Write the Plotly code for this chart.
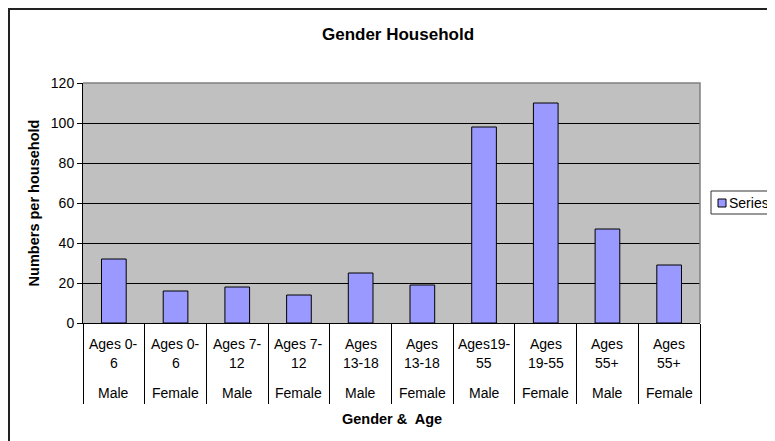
import plotly.graph_objects as go

# ---- data ----
age_line1 = ["Ages 0-", "Ages 0-", "Ages 7-", "Ages 7-", "Ages", "Ages", "Ages19-", "Ages", "Ages", "Ages"]
age_line2 = ["6", "6", "12", "12", "13-18", "13-18", "55", "19-55", "55+", "55+"]
genders = ["Male", "Female", "Male", "Female", "Male", "Female", "Male", "Female", "Male", "Female"]
values = [32, 16, 18, 14, 25, 19, 98, 110, 47, 29]
y_ticks = [0, 20, 40, 60, 80, 100, 120]

categories = [f"{a}{b} {g}" for a, b, g in zip(age_line1, age_line2, genders)]

FONT = "Arial, Liberation Sans, sans-serif"
OFF = 8  # page body margin in the browser
W, H = 775 - OFF, 441 - OFF
# plot area in window pixels: x 83..700, y 83..323
PL, PR, PT, PB = 83, 700, 83, 323
L, T = PL - OFF, PT - OFF
R = W - (PR - OFF)
B = H - (PB - OFF)
PW, PH = PR - PL, PB - PT


def px_x(px):
    return (px - PL) / PW


def px_y(py):
    return (PB - py) / PH


fig = go.Figure()
fig.add_trace(go.Bar(
    x=categories, y=values, name="Series1", width=0.4,
    marker=dict(color="#9999FF", line=dict(color="black", width=1)),
    showlegend=False,
))

annotations = []
for c, a, b, g in zip(categories, age_line1, age_line2, genders):
    for txt, py in ((a, 344), (b, 363), (g, 393)):
        annotations.append(dict(x=c, xref="x", y=px_y(py), yref="paper", text=txt,
                                showarrow=False, xanchor="center", yanchor="middle",
                                font=dict(family=FONT, size=14, color="black")))

# axis title (x)
annotations.append(dict(x=px_x(392), xref="paper", y=px_y(419), yref="paper", text="<b>Gender &  Age</b>",
                        showarrow=False, xanchor="center", yanchor="middle",
                        font=dict(family=FONT, size=14.5, color="black")))
# legend text
annotations.append(dict(x=px_x(727), xref="paper", y=px_y(203), yref="paper", text="Series1",
                        showarrow=False, xanchor="left", yanchor="middle",
                        font=dict(family=FONT, size=14, color="black")))

shapes = [
    # outer chart border
    dict(type="rect", xref="paper", yref="paper", x0=px_x(9), x1=px_x(800), y0=px_y(470), y1=px_y(9),
         line=dict(color="#222222", width=2), fillcolor="rgba(0,0,0,0)", layer="above"),
    # grey plot border top/right
    dict(type="path", xref="paper", yref="paper", path="M 0,1 L 1,1 L 1,0",
         line=dict(color="#808080", width=1.5), layer="above"),
    # legend box
    dict(type="rect", xref="paper", yref="paper", x0=px_x(711), x1=px_x(800), y0=px_y(214), y1=px_y(191),
         line=dict(color="#333333", width=1), fillcolor="white", layer="above"),
    # legend symbol
    dict(type="rect", xref="paper", yref="paper", x0=px_x(718), x1=px_x(726), y0=px_y(207), y1=px_y(199),
         line=dict(color="black", width=1), fillcolor="#9999FF", layer="above"),
]

fig.update_layout(
    width=W, height=H,
    margin=dict(l=L, r=R, t=T, b=B),
    paper_bgcolor="white", plot_bgcolor="#C0C0C0",
    font=dict(family=FONT, size=14, color="black"),
    title=dict(text="<b>Gender Household</b>", x=(398 - OFF) / W, xanchor="center", xref="container",
               y=1 - (34 - OFF) / H, yanchor="middle", yref="container",
               font=dict(family=FONT, size=17, color="black")),
    xaxis=dict(type="category", showticklabels=False, showgrid=False,
               tickson="boundaries", ticks="outside", ticklen=80, tickcolor="black", tickwidth=1,
               showline=True, linecolor="black", linewidth=1, zeroline=False),
    yaxis=dict(range=[0, 120], tickvals=y_ticks, showgrid=True, gridcolor="black", gridwidth=1,
               ticks="outside", ticklen=5, tickcolor="black", tickwidth=1,
               showline=True, linecolor="black", linewidth=1, zeroline=False,
               tickfont=dict(family=FONT, size=14, color="black"),
               title=dict(text="<b>Numbers per household</b>", standoff=7,
                          font=dict(family=FONT, size=14.5, color="black"))),
    bargap=0.6,
    annotations=annotations,
    shapes=shapes,
)

fig.write_html("out.html")
